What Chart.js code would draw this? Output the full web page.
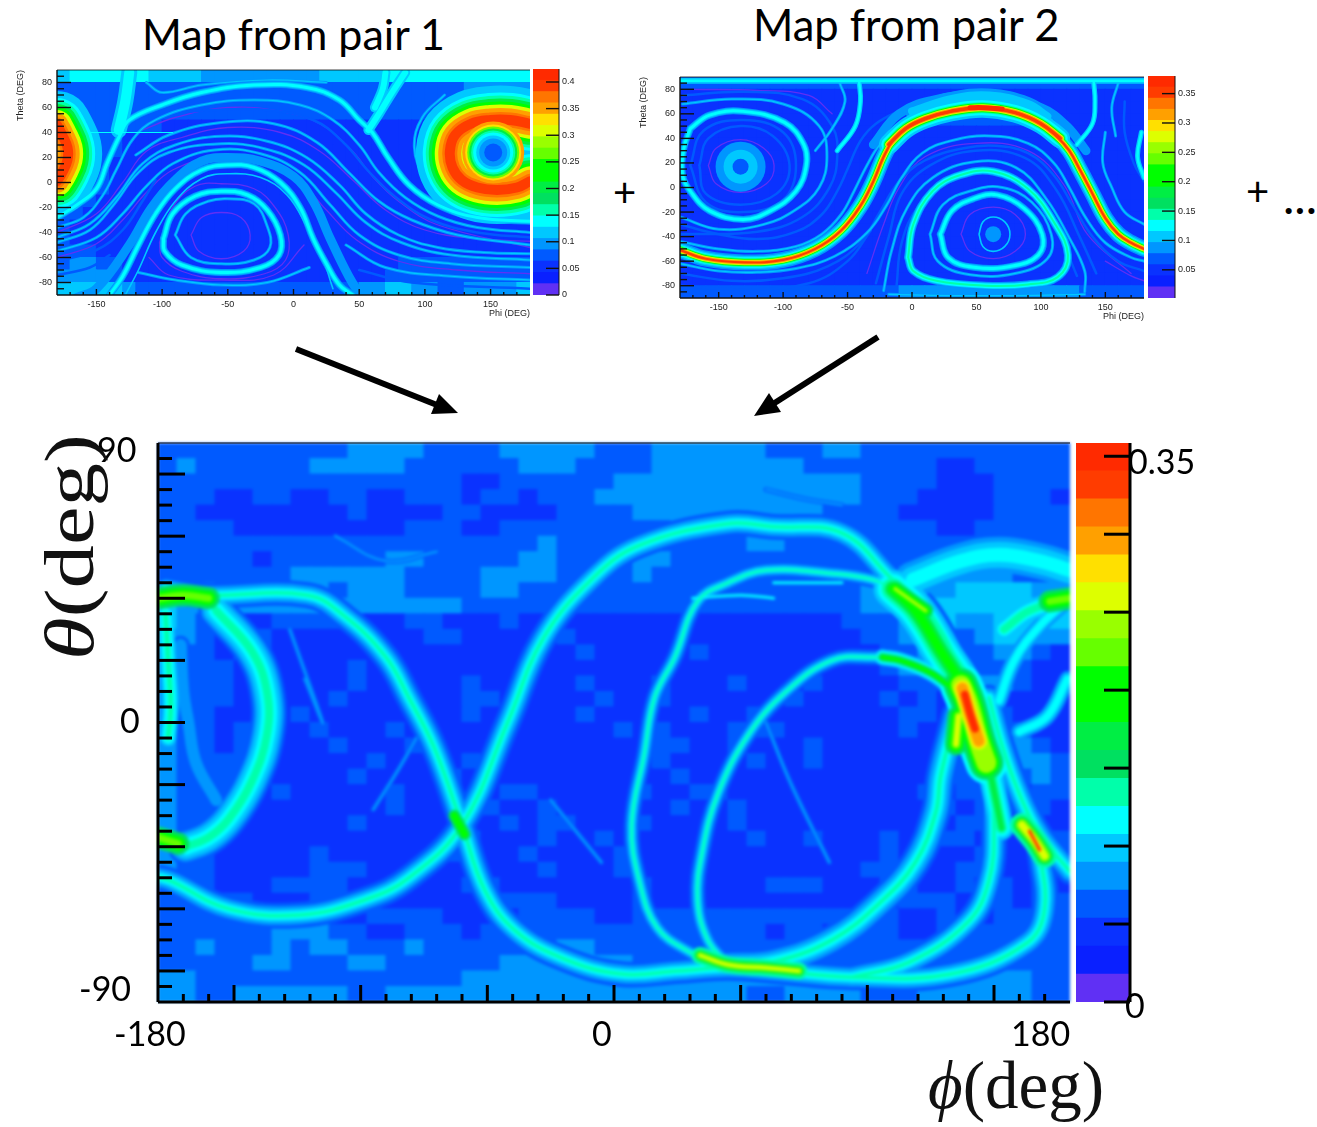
<!DOCTYPE html>
<html>
<head>
<meta charset="utf-8">
<title>Map from pair 1 + Map from pair 2</title>
<script src="https://cdn.jsdelivr.net/npm/chart.js@4"></script>
<style>
  html, body { margin: 0; background: #fff; }
  #page { position: relative; width: 1317px; height: 1127px; overflow: hidden; }
  canvas { position: absolute; }
  .soft { filter: blur(0.45px); }
  .softer { filter: blur(1.5px); }
  .t { position: absolute; white-space: nowrap; font-family: Lato, sans-serif; color: #000; line-height: 1; }
  .m { font-family: "Liberation Serif", "DejaVu Serif", serif; color: #111; }
  svg { position: absolute; left: 0; top: 0; }
</style>
</head>
<body>
<div id="page">
  <div class="t" style="left:142px;top:12px;font-size:43px">Map from pair 1</div>
  <div class="t" style="left:753px;top:3px;font-size:43.5px">Map from pair 2</div>
  <div class="t" style="left:613px;top:172px;font-size:40px">+</div>
  <div class="t" style="left:1246px;top:171px;font-size:40px">+</div>
  <div class="t" style="left:1283px;top:172px;font-size:48px">...</div>

  <canvas id="pair1Map" class="soft"></canvas>
  <canvas id="pair1Bar" class="soft"></canvas>
  <canvas id="pair2Map" class="soft"></canvas>
  <canvas id="pair2Bar" class="soft"></canvas>
  <canvas id="sumMap" class="softer"></canvas>
  <canvas id="sumAxes"></canvas>
  <canvas id="sumBar"></canvas>

  <svg width="1317" height="1127">
    <line x1="296" y1="349" x2="437" y2="405" stroke="#000" stroke-width="6"/>
    <polygon points="458,413 431,414 439,394" fill="#000"/>
    <line x1="878" y1="337" x2="773" y2="404" stroke="#000" stroke-width="6"/>
    <polygon points="754,416 781,412 769,393" fill="#000"/>
  </svg>

  <div class="t" style="left:97px;top:432px;font-size:34px">90</div>
  <div class="t" style="left:120px;top:703px;font-size:34px">0</div>
  <div class="t" style="left:79px;top:971px;font-size:34px">-90</div>
  <div class="t" style="left:114px;top:1016px;font-size:34px">-180</div>
  <div class="t" style="left:592px;top:1016px;font-size:34px">0</div>
  <div class="t" style="left:1011px;top:1016px;font-size:34px">180</div>
  <div class="t" style="left:1128px;top:444px;font-size:34px">0.35</div>
  <div class="t" style="left:1125px;top:988px;font-size:34px">0</div>
  <div class="t m" style="left:928px;top:1052px;font-size:67px"><i>ϕ</i>(deg)</div>
  <div class="t m" style="left:35px;top:660px;font-size:70px;transform-origin:0 0;transform:rotate(-90deg) scaleX(1.24)"><i>θ</i>(deg)</div>
</div>

<script>
// ── Colour steps of the palette, bottom to top of the colour bars ──
const paletteColors = ['#6030f4', '#0a20ff', '#0a32ff', '#005aff', '#0096ff', '#00c8ff', '#00ffff', '#00ffaa',
  '#00e060', '#00ee44', '#00ff00', '#00ff00', '#66ff00', '#99ff00', '#ddff00', '#ffe000', '#ffa000', '#ff7500', '#ff3c00', '#ff2a00'];

// ── Axis ticks ──
const phiTicks = [-150, -100, -50, 0, 50, 100, 150];
const phiMinorTicks = [-170, -160, -140, -130, -120, -110, -90, -80, -70, -60, -40, -30, -20, -10, 10, 20, 30, 40, 60, 70, 80, 90, 110, 120, 130, 140, 160, 170];
const thetaTicks = [-80, -60, -40, -20, 0, 20, 40, 60, 80];
const thetaMinorTicks = [-85, -75, -70, -65, -55, -50, -45, -35, -30, -25, -15, -10, -5, 5, 10, 15, 25, 30, 35, 45, 50, 55, 65, 70, 75, 85];
const pair1BarTicks = [0, 0.05, 0.1, 0.15, 0.2, 0.25, 0.3, 0.35, 0.4];
const pair2BarTicks = [0.05, 0.1, 0.15, 0.2, 0.25, 0.3, 0.35];
const sumBarTicks = [0, 0.05, 0.1, 0.15, 0.2, 0.25, 0.3, 0.35];

// ── Coarse background cells: one char per cell, palette step in base 20, rows from theta 90 down ──
const pair1Cells = [
  '566666655554444444445555566666666666',
  '333333333333333333333333333333344444',
  '333333333333333333333333333333344444',
  '333333333333333333333333333333344444',
  '333333332222222222222222222223344444',
  '333332222222222222222222222223333333',
  '333332222222222222222222222222233333',
  '333322222222222222222222222222222222',
  '333322222222222222222222222222222222',
  '333322222222222222222222222222222222',
  '333222222222222222222222222222222222',
  '332222222222222222222222222222222222',
  '322222222222222222222222222222222222',
  '322222222222222222222222222222222222',
  '333222222222222222222222222222222222',
  '344332222222222222222222223333333333',
  '444432222222222222222222233333333333',
  '555554333333333333333334455443344445'
];
const pair2Cells = [
  '333333333333333333333333333333333333',
  '222222222222222222222222222222222222',
  '222222222222222222233333333222222222',
  '222222222222222222233333333222222222',
  '222222222222222222222222222222222222',
  '222222222222222222222222222222222222',
  '222222222222222222222222222222222222',
  '222222222222222222222222222222222222',
  '222222222222222222222222222222222222',
  '222222222222222222222222222222222222',
  '222222222222222222222222222222222222',
  '222222222222222222222222222222222222',
  '222222222222222222222222222222222222',
  '222222222222222222222222222222222222',
  '222222222222222222222222222222222222',
  '222222222222222222222222222222222222',
  '222222222222222222222222222222222222',
  '333333333333333334444444444444433333'
];
const sumCells = [
  '333333333344443333444443334444443334433333333333',
  '343333334444433333344433334444444433333332233333',
  '333333333333333322333333444444444444433332223333',
  '333223322332233323323334444444444444433322223332',
  '332222222232222332222333344444444443333222223333',
  '333322222222233322333333333444434333333332233333',
  '333333333333333333334333333333344333333333333333',
  '333332333333443333344333344333333333333333333333',
  '333333344444433334444333343333333333333444444333',
  '334333444344433334433333333333333333344444555544',
  '544444444444444433333433333333333333344455555555',
  '543222333322233222322222222222222222333445445555',
  '443223222222223322222322222222222222233454345544',
  '433233222222222222222232222232222222223344334432',
  '433323222232222222222222222222222222223433333322',
  '433322222232222232222232223222322232222333344322',
  '433323222322222233222223223222222322223232332222',
  '433222232222222232222232222232232222222332333222',
  '433232223222322222222222323222333222222322333322',
  '433233222322232222222222223322322232222223233432',
  '433333222223222232222222223222232232222222333443',
  '433333222232222322222222222322222222222223333343',
  '433332322222322222332222232233222222222232332233',
  '433322222222322223223222222322322222222223233232',
  '433322222232222222323322232222322222222222332222',
  '433222222222222332223223222222232232223223322223',
  '433222223222222322232222322222222222223222232233',
  '433222223332222222223222322222222222233222332222',
  '333222333322222233222222232222223332223322323232',
  '333332223322222222333222232222222222222333233233',
  '333333333223333222233332233333333333333223223333',
  '333333444332233323333333333333332332233223333333',
  '334333434433343333333443333333333333333333333333',
  '333334433344333333444444433333333333333333333333',
  '443333333333333344444444444444444433444444444433',
  '443344444433444444444444444444433444433344444433'
];

// ── Bright ridges, [phi, theta] ──
const sumSCurve = [[-179, -50], [-175, -51], [-152, -60], [-124, -62], [-98, -57], [-81, -50], [-60, -33], [-42, 0], [-28, 27], [-9, 46], [10, 57], [45, 64], [63, 63], [90, 61], [110, 46], [125, 35], [140, 10], [148, -12], [150, -34], [148, -51], [140, -64], [117, -77], [94, -82]];
const sumFall = [[-177, 43], [-162, 41], [-121, 41], [-106, 34], [-90, 21], [-81, 8], [-71, -8], [-60, -33], [-51, -54], [-39, -67], [-20, -76], [3, -81], [25, -80], [45, -79], [63, -80], [94, -82], [133, -81], [163, -71], [170, -60], [168, -41]];
const sumCrescent = [[-157, 36], [-143, 23], [-137, 10], [-137, -4], [-143, -19], [-152, -31], [-160, -37], [-169, -40]];
const sumEdge = [[-177, 35], [-176, 20], [-175, 5], [-176, -5]];
const sumEdgeLow = [[-180, -37], [-172, -39]];
const sumInnerFaint = [[-171, 25], [-170, 10], [-168, 0], [-165, -13], [-157, -25]];
const sumOuterLoop = [[113, 42], [102, 46], [86, 48], [60, 49], [45, 45], [33, 39], [24, 21], [16, 8], [12, -10], [7, -33], [10, -51], [17, -66], [30, -74], [41, -78]];
const sumInnerLoop = [[129, 15], [113, 20], [102, 21], [86, 20], [68, 10], [53, -4], [41, -23], [35, -41], [33, -57], [37, -70], [45, -78]];
const sumInnerClose = [[135, 2], [129, -17], [127, -29], [119, -45], [105, -58], [86, -70], [63, -77], [45, -78]];
const sumInnerHot = [[106, 21], [113, 20], [125, 16], [135, 10]];
const sumCross = [[148, 8], [153, -7], [160, -23], [168, -36], [180, -48]];
const sumNearPeak = [[110, 43], [119, 36], [129, 23], [139, 10], [146, -6]];
const sumBelowPeak = [[146, -6], [150, -22], [153, -34]];
const sumGreenSpot = [[111, 43], [123, 36]];
const sumPeak = [[137, 12], [140, 6], [144, -6], [147, -13]];
const sumPeakMid = [[137.5, 11], [140, 4], [144, -6]];
const sumPeakCore = [[138.5, 9], [140.5, 3], [142.5, -2]];
const sumPeakSide = [[136, 2], [135, -7]];
const sumLowPeak = [[161, -33], [166, -38], [170, -43]];
const sumLowCore = [[164, -35], [166, -38], [168, -41]];
const sumFloorPeak = [[34, -75], [45, -78], [60, -79], [73, -80]];
const sumKnot = [[-63, -30], [-59, -36]];
const sumLeftHot = [[-180, 40], [-170, 41], [-160, 40]];
const sumCloud = [[118, 46], [137, 52], [152, 54], [168, 52], [180, 49]];
const sumBranchA = [[154, 30], [164, 36], [180, 40]];
const sumBranchEnd = [[172, 39], [180, 40]];
const sumBranchB = [[152, 7], [158, 20], [168, 31], [180, 40]];
const sumRightPatch = [[160, -3], [171, 2], [179, 14]];
const sumStreakA = [[31, 40], [50, 41], [63, 40]];
const sumStreakB = [[63, 45], [90, 45]];
const sumStreakC = [[-110, 60], [-90, 52], [-70, 55]];
const sumStreakD = [[60, 75], [75, 72], [90, 70]];
const sumStreakE = [[-95, -28], [-85, -15], [-78, -5]];
const sumStreakF = [[-122, 14], [-115, 0], [-128, 30]];
const sumStreakG = [[-25, -25], [-15, -35], [-5, -45]];
const sumStreakH = [[60, 0], [70, -20], [85, -45]];

// ── Contours of pair 1 ──
const p1HotRing = [[180, 47], [165, 50], [150, 50], [135, 47], [123, 38], [119, 25], [121, 12], [128, 2], [140, -4], [155, -6], [170, -4], [180, 1]];
const p1HotLeft = [[-180, 46], [-176, 38], [-172, 28], [-172, 18], [-176, 8], [-180, 1]];
const p1RingCyan = [[180, -22], [150, -24], [120, -16], [100, 5], [92, 28], [98, 52], [115, 70]];
const p1RingViolet = [[180, -13], [150, -15], [125, -10], [110, 5], [103, 25], [108, 45], [125, 60], [150, 64], [180, 62]];
const p1Arch = [[-140, -90], [-130, -75], [-118, -50], [-105, -25], [-90, -5], [-70, 10], [-50, 14], [-30, 12], [-10, 0], [5, -20], [15, -45], [25, -65], [35, -82], [45, -90]];
const p1ArchHalo = [[-165, -92], [-150, -85], [-125, -50], [-108, -20], [-90, 2], [-70, 17], [-50, 20], [-25, 17], [0, 5], [15, -15], [28, -45], [42, -75], [52, -92]];
const p1Arch2 = [[-128, -90], [-118, -70], [-105, -40], [-90, -15], [-70, 3], [-50, 7], [-25, 4], [-5, -10], [10, -35], [22, -60], [30, -85]];
const p1Loop = [[-99, -45], [-92, -25], [-75, -11], [-55, -7], [-35, -10], [-20, -22], [-10, -42], [-11, -58], [-25, -68], [-55, -72], [-85, -66], [-98, -55], [-99, -45]];
const p1LoopInner = [[-90, -42], [-82, -25], [-65, -15], [-50, -13], [-30, -17], [-20, -35], [-18, -52], [-30, -62], [-55, -65], [-78, -60], [-90, -42]];
const p1LoopViolet = [[-102, -48], [-92, -20], [-75, -3], [-55, -1], [-30, -5], [-14, -20], [-4, -42], [-6, -62], [-22, -73], [-55, -77], [-85, -71], [-100, -60], [-102, -48]];
const p1CoreViolet = [[-78, -42], [-70, -28], [-55, -24], [-40, -28], [-33, -42], [-38, -55], [-55, -61], [-72, -55], [-78, -42]];
const p1Bottom1 = [[-118, -72], [-90, -78], [-55, -82], [-20, -80], [12, -68]];
const p1Bottom2 = [[-110, -60], [-95, -74], [-55, -78], [-15, -74], [8, -50]];
const p1Wave1 = [[-180, -28], [-165, -18], [-150, -5], [-142, 15], [-132, 38], [-125, 50], [-100, 62], [-70, 72], [-30, 78], [10, 76], [35, 66], [50, 50], [60, 40], [72, 20], [88, -2], [110, -18], [140, -28], [180, -31]];
const p1Wave2 = [[-180, -36], [-160, -28], [-145, -10], [-135, 10], [-122, 35], [-105, 50], [-70, 62], [-30, 66], [5, 62], [30, 50], [50, 30], [65, 8], [85, -12], [110, -27], [140, -36], [180, -40]];
const p1Wave3 = [[-180, -44], [-155, -33], [-135, -12], [-115, 15], [-90, 30], [-55, 37], [-20, 33], [10, 20], [35, -2], [55, -25], [80, -42], [110, -52], [145, -56], [180, -57]];
const p1Wave4 = [[-180, -40], [-150, -25], [-130, 0], [-112, 25], [-85, 36], [-50, 44], [-10, 40], [20, 25], [45, 2], [70, -22], [100, -38], [140, -45], [180, -47]];
const p1Wave5 = [[-180, -55], [-150, -44], [-130, -25], [-112, -3], [-92, 15], [-60, 26], [-25, 23], [5, 8], [28, -18], [50, -42], [80, -58], [120, -65], [180, -68]];
const p1Wave6 = [[-180, -63], [-150, -54], [-130, -38], [-115, -15], [-105, 2]];
const p1Wave6b = [[40, -50], [70, -68], [120, -75], [180, -78]];
const p1Wave7 = [[-180, -74], [-155, -68], [-140, -58]];
const p1Wave7b = [[50, -70], [90, -80], [180, -85]];
const p1Wave8 = [[-180, -48], [-155, -38], [-137, -18], [-118, 8], [-95, 24], [-55, 31], [-22, 27], [8, 14], [32, -8], [55, -32], [82, -48], [120, -58], [180, -62]];
const p1Wave9 = [[-180, -60], [-150, -49], [-130, -30], [-112, -8], [-92, 10], [-60, 20], [-25, 18], [3, 3], [25, -22], [48, -46], [80, -63], [125, -70], [180, -73]];
const p1Wave10 = [[-100, 55], [-60, 58], [-20, 58], [15, 50], [38, 32], [58, 8], [78, -12], [105, -30], [140, -40], [180, -44]];
const p1Wave11 = [[-120, 22], [-95, 38], [-55, 48], [-15, 47], [18, 32], [42, 8], [65, -15], [90, -30], [125, -42], [180, -50]];
const p1UpperViolet = [[-115, 42], [-90, 52], [-50, 60], [-10, 57], [20, 47], [45, 25], [60, 5], [80, -15], [110, -34], [180, -52]];
const p1Seam = [[-170, 40], [-130, 40], [-92, 40]];
const p1FunnelA = [[85, 88], [75, 72], [65, 55], [57, 42]];
const p1FunnelA2 = [[70, 88], [68, 75], [62, 60]];
const p1FunnelB = [[-125, 88], [-128, 65], [-133, 42]];
const p1FunnelC = [[-112, 80], [-100, 72], [-70, 78], [-20, 82], [25, 80]];

// ── Contours of pair 2 ──
const p2Ribbon = [[-180, -51], [-160, -58], [-130, -61], [-100, -59], [-75, -50], [-55, -35], [-40, -15], [-30, 5], [-22, 25], [-15, 38], [-5, 48], [10, 56], [30, 62], [55, 65], [80, 61], [100, 52], [112, 42], [122, 30], [130, 15], [140, -5], [150, -25], [160, -38], [170, -45], [180, -50]];
const p2RibbonTop = [[-18, 35], [-5, 48], [10, 56], [30, 62], [55, 65], [80, 61], [100, 52], [115, 40]];
const p2RibbonHot = [[45, 65], [55, 65], [70, 64]];
const p2Halo = [[-30, 35], [-10, 60], [20, 72], [60, 75], [100, 65], [120, 50], [135, 30]];
const p2HaloTop = [[0, 62], [30, 72], [60, 75], [90, 68], [105, 58]];
const p2TopEdge = [[-180, 87], [-60, 87], [60, 87], [180, 87]];
const p2LeftLoop = [[-172, 48], [-157, 59], [-131, 62], [-99, 53], [-84, 35], [-82, 18], [-90, -3], [-110, -19], [-131, -26], [-157, -19], [-172, -3], [-178, 10], [-177, 32], [-172, 48]];
const p2RingInner = [[-172, 18], [-162, 46], [-131, 55], [-100, 45], [-90, 18], [-100, -10], [-131, -20], [-160, -12], [-172, 18]];
const p2LeftRing = [[-165, 18], [-158, 40], [-133, 50], [-108, 42], [-95, 18], [-105, -5], [-133, -14], [-160, -5], [-165, 18]];
const p2LeftViolet = [[-158, 18], [-152, 32], [-133, 39], [-115, 32], [-107, 18], [-113, 3], [-133, -4], [-152, 3], [-158, 18]];
const p2OuterArch = [[-22, -84], [-16, -52], [-4, -17], [16, 8], [49, 21], [81, 16], [104, -9], [122, -41], [134, -68], [134, -85]];
const p2ArchLow = [[-12, -80], [-8, -45], [5, -15], [25, 2], [50, 12], [80, 7], [100, -12], [115, -40], [128, -72]];
const p2Arch2 = [[-28, -78], [-18, -40], [-8, -5], [14, 18], [49, 30], [88, 24], [112, -2], [130, -40], [143, -70]];
const p2ArchViolet = [[-35, -70], [-22, -30], [-10, 0], [10, 25], [49, 36], [90, 30], [118, 2], [136, -38], [170, -70]];
const p2MainLoop = [[-3, -57], [1, -30], [16, -3], [37, 10], [63, 13], [90, -1], [110, -28], [121, -55], [113, -73], [90, -79], [57, -80], [19, -76], [1, -68], [-3, -57]];
const p2InnerLoop = [[22, -38], [31, -19], [48, -9], [66, -6], [87, -17], [101, -38], [98, -55], [78, -64], [48, -65], [28, -57], [22, -38]];
const p2InnerLoop2 = [[14, -38], [24, -14], [48, -2], [70, 0], [93, -12], [108, -38], [105, -58], [80, -70], [45, -71], [20, -60], [14, -38]];
const p2CoreRing = [[52, -38], [55, -28], [63, -24], [72, -28], [76, -38], [72, -48], [63, -52], [55, -48], [52, -38]];
const p2CoreViolet = [[38, -38], [45, -22], [63, -16], [80, -22], [88, -38], [80, -52], [63, -58], [45, -52], [38, -38]];
const p2Floor = [[-18, -87], [30, -88], [80, -88], [134, -87]];
const p2Wave1 = [[-180, -44], [-150, -50], [-120, -52], [-90, -48], [-70, -38], [-55, -22], [-45, -3], [-35, 18], [-25, 35], [-10, 50], [15, 62]];
const p2Wave2 = [[-180, -30], [-150, -38], [-120, -42], [-90, -36], [-70, -22], [-58, -3], [-50, 15], [-40, 38], [-28, 52], [-5, 65]];
const p2Wave3 = [[-180, -62], [-150, -68], [-120, -69], [-90, -66], [-60, -56], [-35, -37], [-20, -15], [-8, 8], [8, 28], [30, 38], [60, 42], [90, 36], [110, 20], [122, 0], [135, -25], [150, -45], [170, -57], [180, -60]];
const p2Wave4 = [[-180, -70], [-140, -76], [-100, -74], [-65, -64], [-40, -45], [-25, -20], [-10, 5], [10, 22], [40, 32], [65, 34], [90, 28], [110, 10], [125, -15], [140, -40], [160, -60], [180, -68]];
const p2Wave5 = [[-180, -80], [-130, -83], [-80, -78], [-50, -60], [-32, -35]];
const p2Wave6 = [[150, -60], [170, -72], [180, -76]];
const p2Wave7 = [[-178, 68], [-140, 72], [-100, 68], [-72, 50], [-66, 25], [-72, 0], [-90, -18], [-115, -30], [-150, -34], [-180, -24]];
const p2Wave8 = [[-178, 75], [-130, 78], [-85, 72], [-62, 50], [-58, 25], [-64, 0], [-85, -24], [-120, -36], [-180, -38]];
const p2RightA = [[150, 45], [148, 20], [155, 0], [165, -20], [180, -30]];
const p2RightB = [[165, 70], [165, 45], [172, 20], [180, 5]];
const p2FunnelA = [[-41, 86], [-40, 70], [-44, 50], [-58, 30]];
const p2FunnelB = [[141, 86], [142, 70], [140, 52], [128, 35]];
const p2FunnelC = [[-56, 85], [-52, 70], [-62, 48], [-75, 30]];
const p2FunnelD = [[160, 85], [155, 65], [158, 42]];
const p2RightEdge = [[178, 45], [175, 25], [180, 8]];
const p2TopViolet = [[-170, 80], [-120, 79], [-80, 75], [-62, 60]];

// ── Round spots, [phi, theta] ──
const p1Spot = [[152, 24]];
const p2LeftSpot = [[-133, 17]];
const p2CoreSpot = [[63, -38]];

// Line layers for each ridge: [pixel width, palette step], drawn low steps first
const glowWide = [[36, 3], [30, 4], [24, 5], [16, 6], [8, 7]];
const glowMid = [[26, 3], [19, 4], [13, 5], [8, 6], [3.5, 7]];
const glowThin = [[16, 3], [11, 4], [7, 5], [4, 6], [2, 7]];
const glowRight = [[30, 3], [23, 4], [16, 5], [10, 6], [4, 7]];
const edgeBand = [[16, 5], [11, 6], [5, 7]];
const faintBand = [[18, 3], [12, 4]];
const cloudBand = [[36, 4], [26, 5], [14, 6]];
const branchBand = [[20, 5], [13, 6], [8, 7]];
const weakBranch = [[16, 4], [11, 5], [7, 6]];
const greenEnd = [[22, 8], [14, 10], [7, 12]];
const nearPeakBand = [[38, 5], [30, 6], [22, 7], [15, 9], [8, 10]];
const belowPeakBand = [[24, 5], [17, 6], [11, 7], [6, 9]];
const innerHotBand = [[16, 5], [12, 6], [8, 8], [4, 10]];
const greenSpot = [[15, 8], [10, 11], [4, 13]];
const peakBand = [[42, 6], [34, 8], [26, 10], [20, 13]];
const peakMidBand = [[17, 14], [14, 15], [11, 16]];
const peakCoreBand = [[9, 17], [7, 19]];
const sidePeakBand = [[22, 8], [15, 10], [9, 12], [5, 14]];
const lowPeakBand = [[24, 7], [17, 9], [12, 12], [7, 14]];
const lowCoreBand = [[4, 16], [2.5, 18]];
const floorBand = [[17, 7], [11, 9], [7, 12], [3, 14]];
const knotBand = [[12, 8], [7, 10]];
const streak = [[5, 3], [2.5, 4]];
const streakBright = [[3.5, 5], [1.5, 6]];

const hotRingBand = [[68, 5], [54, 6], [48, 7], [42, 9], [36, 11], [30, 14], [23, 16], [15, 17], [10, 18]];
const ribbonBand = [[16, 4], [13, 5], [10.5, 6], [9, 7], [7, 10], [5.5, 14], [4, 16], [2.2, 18]];
const ribbonTopBand = [[20, 5], [15, 6], [11, 7], [9, 10], [7, 14], [5.5, 16], [3.5, 18]];
const ribbonHotBand = [[5, 19]];
const haloBand = [[9, 4]];
const haloTopBand = [[14, 4], [8, 5]];
const topEdgeBand = [[6, 5], [2.5, 6]];
const cyanLoop = [[7, 4], [5, 5], [3, 6]];
const thickLoop = [[8, 4], [6, 5], [4.5, 6], [2, 7]];
const midLine = [[3, 4], [1.2, 5]];
const blueLine = [[2.5, 3]];
const brightLine = [[1.6, 5]];
const violetLine = [[1.3, 0]];
const seamLine = [[1.2, 6]];
const funnelLine = [[5, 5], [2.5, 6]];
const funnelWide = [[16, 5], [10, 6]];
const funnelSlim = [[10, 5], [6, 6]];
const archHaloBand = [[9, 4]];

const pair1Ridges = [[p1HotRing, hotRingBand], [p1HotLeft, hotRingBand], [p1RingCyan, midLine], [p1RingViolet, violetLine],
  [p1ArchHalo, archHaloBand], [p1Arch, cyanLoop], [p1Arch2, brightLine], [p1Loop, cyanLoop], [p1LoopInner, midLine], [p1LoopViolet, violetLine], [p1CoreViolet, violetLine],
  [p1Bottom1, midLine], [p1Bottom2, violetLine], [p1Wave1, cyanLoop], [p1Wave2, midLine], [p1Wave3, midLine], [p1Wave4, violetLine], [p1Wave5, midLine], [p1Wave6, blueLine], [p1Wave6b, midLine],
  [p1Wave7, blueLine], [p1Wave7b, blueLine], [p1Wave8, midLine], [p1Wave9, violetLine], [p1Wave10, blueLine], [p1Wave11, midLine], [p1UpperViolet, violetLine], [p1Seam, seamLine],
  [p1FunnelA, funnelSlim], [p1FunnelA2, funnelSlim], [p1FunnelB, funnelWide], [p1FunnelC, midLine]];
const pair2Ridges = [[p2Ribbon, ribbonBand], [p2RibbonTop, ribbonTopBand], [p2RibbonHot, ribbonHotBand], [p2Halo, haloBand], [p2HaloTop, haloTopBand], [p2TopEdge, topEdgeBand],
  [p2LeftLoop, cyanLoop], [p2RingInner, blueLine], [p2LeftRing, blueLine], [p2LeftViolet, violetLine],
  [p2OuterArch, midLine], [p2ArchLow, blueLine], [p2Arch2, blueLine], [p2ArchViolet, violetLine], [p2MainLoop, thickLoop], [p2InnerLoop, cyanLoop], [p2InnerLoop2, midLine],
  [p2CoreRing, brightLine], [p2CoreViolet, violetLine], [p2Floor, midLine], [p2Wave1, midLine], [p2Wave2, blueLine], [p2Wave3, midLine], [p2Wave4, blueLine],
  [p2Wave5, blueLine], [p2Wave6, violetLine], [p2Wave7, midLine], [p2Wave8, blueLine], [p2RightA, midLine], [p2RightB, blueLine],
  [p2FunnelA, funnelLine], [p2FunnelB, funnelLine], [p2FunnelC, midLine], [p2FunnelD, midLine], [p2RightEdge, funnelLine], [p2TopViolet, violetLine]];
const sumRidges = [[sumSCurve, glowMid], [sumFall, glowMid], [sumCrescent, glowWide], [sumEdge, edgeBand], [sumEdgeLow, greenEnd], [sumInnerFaint, faintBand],
  [sumOuterLoop, glowThin], [sumInnerLoop, glowThin], [sumInnerClose, glowRight], [sumInnerHot, innerHotBand], [sumCross, glowMid], [sumNearPeak, nearPeakBand], [sumBelowPeak, belowPeakBand], [sumGreenSpot, greenSpot],
  [sumPeak, peakBand], [sumPeakMid, peakMidBand], [sumPeakCore, peakCoreBand], [sumPeakSide, sidePeakBand], [sumLowPeak, lowPeakBand], [sumLowCore, lowCoreBand], [sumFloorPeak, floorBand], [sumKnot, knotBand], [sumLeftHot, greenEnd],
  [sumCloud, cloudBand], [sumBranchA, branchBand], [sumBranchEnd, greenEnd], [sumBranchB, weakBranch], [sumRightPatch, weakBranch],
  [sumStreakA, streakBright], [sumStreakB, streakBright], [sumStreakC, streak], [sumStreakD, streak], [sumStreakE, streak], [sumStreakF, streak], [sumStreakG, streak], [sumStreakH, streak]];

// Spots: [point, radius, palette step]
const pair1Spots = [[p1Spot, 31, 16], [p1Spot, 28, 15], [p1Spot, 26, 12], [p1Spot, 24, 9], [p1Spot, 22, 7], [p1Spot, 20, 6], [p1Spot, 17, 5], [p1Spot, 14, 4], [p1Spot, 9, 3]];
const pair2Spots = [[p2LeftSpot, 25, 4], [p2LeftSpot, 17, 5], [p2LeftSpot, 8, 3], [p2CoreSpot, 8, 4]];

// ── Heat map panels ─────────────────────────────────────────────────────────
function place(id, x0, y0, x1, y1, pad) {
  const cv = document.getElementById(id);
  const w = x1 - x0 + pad.left + pad.right, h = y1 - y0 + pad.top + pad.bottom;
  cv.width = w; cv.height = h;
  cv.style.left = (x0 - pad.left) + 'px';
  cv.style.top = (y0 - pad.top) + 'px';
  cv.style.width = w + 'px';
  cv.style.height = h + 'px';
  return cv;
}

function tickMarks(o) {
  return {
    id: 'tickMarks',
    beforeDatasetsDraw(chart) {
      if (!o.base) return;
      const a = chart.chartArea, c = chart.ctx;
      c.fillStyle = o.base;
      c.fillRect(a.left, a.top, a.width, a.height);
    },
    afterDatasetsDraw(chart) {
      if (!o.xMajor && !o.barSide) return;
      const a = chart.chartArea, c = chart.ctx;
      c.save();
      c.strokeStyle = o.color;
      const seg = (x1, y1, x2, y2, w) => { c.lineWidth = w; c.beginPath(); c.moveTo(x1, y1); c.lineTo(x2, y2); c.stroke(); };
      const y = chart.scales.y;
      (o.yMajor || []).forEach(v => { const p = y.getPixelForValue(v); if (o.barSide) seg(a.right, p, a.right - o.yMajorLen, p, o.w); else seg(a.left, p, a.left + o.yMajorLen, p, o.w); });
      (o.yMinor || []).forEach(v => { const p = y.getPixelForValue(v); seg(a.left, p, a.left + o.yMinorLen, p, o.w); });
      if (o.barSide) {
        seg(a.right, a.top, a.right, a.bottom, o.border);
      } else {
        const x = chart.scales.x;
        o.xMajor.forEach(v => { const p = x.getPixelForValue(v); seg(p, a.bottom, p, a.bottom - o.xMajorLen, o.w); });
        o.xMinor.forEach(v => { const p = x.getPixelForValue(v); seg(p, a.bottom, p, a.bottom - o.xMinorLen, o.w); });
        seg(a.left, a.top, a.left, a.bottom, o.border);
        seg(a.left, a.bottom, a.right, a.bottom, o.border);
        seg(a.left, a.top, a.right, a.top, o.topLine);
      }
      c.restore();
    }
  };
}

const noScalePadding = s => { s.paddingLeft = 0; s.paddingRight = 0; s.paddingTop = 0; s.paddingBottom = 0; };

function heatMap(id, box, pad, cells, ridges, spots, marks, axes) {
  const cv = place(id, box[0], box[1], box[2], box[3], pad);
  const phiBins = Array.from({ length: cells[0].length }, (_, i) => String(i));
  const rowStep = 180 / cells.length;
  const all = [];
  cells.forEach((row, r) => {
    const hi = 90 - r * rowStep;
    all.push({
      type: 'bar', xAxisID: 'cells', yAxisID: 'y', grouped: false, barPercentage: 1, categoryPercentage: 1,
      borderWidth: 0, inflateAmount: 0.5,
      data: phiBins.map(() => [hi - rowStep, hi]),
      backgroundColor: phiBins.map((_, i) => paletteColors[parseInt(row.charAt(i) || '2', 20)])
    });
  });
  const layers = [];
  ridges.forEach(([pts, band]) => band.forEach(([w, step]) => layers.push({ pts, w, step })));
  layers.sort((a, b) => a.step - b.step);
  layers.forEach(l => all.push({
    type: 'line', xAxisID: 'x', yAxisID: 'y', clip: 0, tension: 0.4, pointRadius: 0, fill: false,
    borderWidth: l.w, borderColor: paletteColors[l.step], borderCapStyle: 'round', borderJoinStyle: 'round',
    data: l.pts.map(p => ({ x: p[0], y: p[1] }))
  }));
  spots.forEach(([pts, r, step]) => all.push({
    type: 'line', xAxisID: 'x', yAxisID: 'y', clip: 0, showLine: false, pointRadius: r, pointBorderWidth: 0,
    pointBackgroundColor: paletteColors[step], data: pts.map(p => ({ x: p[0], y: p[1] }))
  }));
  all.forEach((d, i) => { d.order = all.length - i; });

  const scaleFont = { family: 'Liberation Sans', size: 9 };
  new Chart(cv, {
    type: 'bar',
    data: { labels: phiBins, datasets: all },
    options: {
      responsive: false, animation: false, events: [],
      // autoPadding would shrink the plot to make room for the wide ridge lines
      layout: { autoPadding: false, padding: axes ? { top: pad.top, right: pad.right, left: 0, bottom: 0 } : pad },
      plugins: { legend: { display: false }, tooltip: { enabled: false } },
      scales: {
        cells: { type: 'category', axis: 'x', display: false, offset: true, labels: phiBins, grid: { display: false } },
        x: {
          type: 'linear', min: -180, max: 180, offset: false, position: 'bottom', display: !!axes,
          grid: { display: false, drawTicks: false, offset: false }, border: { display: false },
          afterBuildTicks: s => { s.ticks = phiTicks.map(v => ({ value: v })); },
          afterFit: s => { if (axes) { s.height = pad.bottom; noScalePadding(s); } },
          ticks: { autoSkip: false, maxRotation: 0, padding: 4, color: '#222', font: scaleFont, callback: v => String(v) },
          title: { display: !!axes, text: 'Phi (DEG)', align: 'end', color: '#222', font: scaleFont, padding: 0 }
        },
        y: {
          type: 'linear', min: -90, max: 90, position: 'left', display: !!axes,
          grid: { display: false, drawTicks: false }, border: { display: false },
          afterBuildTicks: s => { s.ticks = thetaTicks.map(v => ({ value: v })); },
          afterFit: s => { if (axes) { s.width = pad.left; noScalePadding(s); } },
          ticks: { autoSkip: false, padding: 5, color: '#222', font: scaleFont, callback: v => String(v) },
          title: { display: !!axes, text: 'Theta (DEG)', align: 'end', color: '#222', font: scaleFont, padding: 0 }
        }
      }
    },
    plugins: [tickMarks(marks)]
  });
}

// Crisp ticks of the summed map on their own layer, above the softened cells
function axisFrame(id, box, pad, marks) {
  const cv = place(id, box[0], box[1], box[2], box[3], pad);
  new Chart(cv, {
    type: 'scatter',
    data: { datasets: [] },
    options: {
      responsive: false, animation: false, events: [],
      layout: { padding: pad },
      plugins: { legend: { display: false }, tooltip: { enabled: false } },
      scales: {
        x: { type: 'linear', min: -180, max: 180, display: false },
        y: { type: 'linear', min: -90, max: 90, display: false }
      }
    },
    plugins: [tickMarks(marks)]
  });
}

function colorBar(id, box, pad, low, high, ticks, marks, showLabels) {
  const cv = place(id, box[0], box[1], box[2], box[3], pad);
  const band = (high - low) / paletteColors.length;
  new Chart(cv, {
    type: 'bar',
    data: {
      labels: ['z'],
      datasets: paletteColors.map((col, i) => ({
        grouped: false, barPercentage: 1, categoryPercentage: 1, borderWidth: 0, inflateAmount: 0.4,
        backgroundColor: col, data: [[low + i * band, low + (i + 1) * band]]
      }))
    },
    options: {
      responsive: false, animation: false, events: [],
      layout: { padding: showLabels ? { top: pad.top, bottom: pad.bottom, left: pad.left, right: 0 } : pad },
      plugins: { legend: { display: false }, tooltip: { enabled: false } },
      scales: {
        x: { display: false, offset: true },
        y: {
          type: 'linear', min: low, max: high, position: 'right', display: !!showLabels,
          grid: { display: false, drawTicks: false }, border: { display: false },
          afterBuildTicks: s => { s.ticks = ticks.map(v => ({ value: v })); },
          afterFit: s => { if (showLabels) { s.width = pad.right; noScalePadding(s); } },
          ticks: { autoSkip: false, padding: 3, color: '#222', font: { family: 'Liberation Sans', size: 9 }, callback: v => String(v) }
        }
      }
    },
    plugins: [tickMarks(marks)]
  });
}

const smallMarks = { color: '#111', base: '#0a32ff', w: 1.4, border: 1.4, topLine: 0.8, xMajor: phiTicks, xMinor: phiMinorTicks, yMajor: thetaTicks, yMinor: thetaMinorTicks, xMajorLen: 6, xMinorLen: 3, yMajorLen: 14, yMinorLen: 7 };
const smallBarMarks = { color: '#111', w: 1.4, border: 1, barSide: true, yMajorLen: 13 };

heatMap('pair1Map', [57, 70, 530, 295], { left: 42, top: 6, right: 2, bottom: 24 }, pair1Cells, pair1Ridges, pair1Spots, smallMarks, true);
colorBar('pair1Bar', [533, 69, 559, 295], { left: 0, top: 6, right: 30, bottom: 6 }, 0, 0.4244, pair1BarTicks, Object.assign({ yMajor: pair1BarTicks }, smallBarMarks), true);

heatMap('pair2Map', [680, 77, 1144, 298], { left: 42, top: 6, right: 2, bottom: 24 }, pair2Cells, pair2Ridges, pair2Spots, smallMarks, true);
colorBar('pair2Bar', [1148, 76, 1175, 298], { left: 0, top: 6, right: 30, bottom: 6 }, 0.002, 0.38, pair2BarTicks, Object.assign({ yMajor: pair2BarTicks }, smallBarMarks), true);

const sumPad = { left: 4, top: 4, right: 1, bottom: 4 };
heatMap('sumMap', [158, 443, 1070, 1002], sumPad, sumCells, sumRidges, [], { base: '#0a32ff' }, false);
axisFrame('sumAxes', [158, 443, 1070, 1002], sumPad,
  { color: '#000', w: 3, border: 3, topLine: 1.2, xMajor: phiTicks, xMinor: phiMinorTicks, yMajor: thetaTicks, yMinor: thetaMinorTicks, xMajorLen: 17, xMinorLen: 8, yMajorLen: 27, yMinorLen: 14 });
colorBar('sumBar', [1076, 443, 1130, 1002], { left: 0, top: 2, right: 3, bottom: 3 }, 0, 0.3585, sumBarTicks,
  { color: '#000', w: 3, border: 3, barSide: true, yMajor: sumBarTicks, yMajorLen: 26 }, false);
</script>
</body>
</html>
